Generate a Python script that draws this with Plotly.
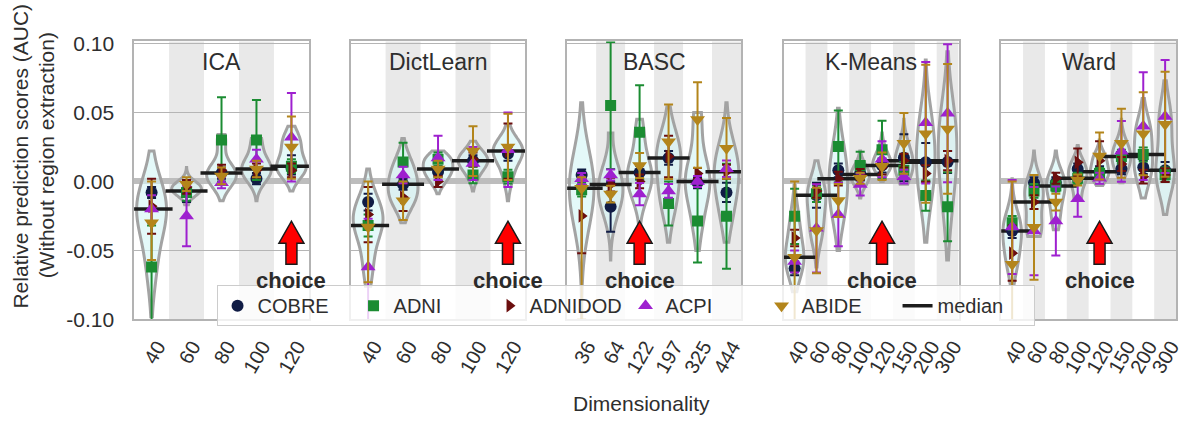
import numpy as np
import plotly.graph_objects as go

W, H = 1189, 439

datasets = ["COBRE", "ADNI", "ADNIDOD", "ACPI", "ABIDE"]
colors = {"COBRE": "#101c45", "ADNI": "#1b8c32", "ADNIDOD": "#6b0e0e",
          "ACPI": "#9e20cf", "ABIDE": "#b3851b"}
symbols = {"COBRE": "circle", "ADNI": "square", "ADNIDOD": "triangle-right",
           "ACPI": "triangle-up", "ABIDE": "triangle-down"}
msize = {"COBRE": 12, "ADNI": 11, "ADNIDOD": 12, "ACPI": 13, "ABIDE": 13}

methods = ["ICA", "DictLearn", "BASC", "K-Means", "Ward"]
dims = {
    "ICA": ["40", "60", "80", "100", "120"],
    "DictLearn": ["40", "60", "80", "100", "120"],
    "BASC": ["36", "64", "122", "197", "325", "444"],
    "K-Means": ["40", "60", "80", "100", "120", "150", "200", "300"],
    "Ward": ["40", "60", "80", "100", "120", "150", "200", "300"],
}
choice = {"ICA": "120", "DictLearn": "120", "BASC": "122", "K-Means": "120", "Ward": "120"}

# ---- mean relative AUC per dataset ----
ica_mean = {
    "COBRE": [-0.008, -0.007, 0.006, 0.002, 0.010],
    "ADNI": [-0.062, -0.008, 0.030, 0.030, 0.011],
    "ADNIDOD": [-0.018, -0.004, 0.008, 0.008, 0.008],
    "ACPI": [-0.020, -0.025, -0.001, 0.016, 0.032],
    "ABIDE": [-0.030, -0.002, 0.004, 0.009, 0.025],
}
ica_err_hi = {
    "COBRE": [0.004, 0.008, 0.004, 0.004, 0.009],
    "ADNI": [0.030, 0.006, 0.031, 0.029, 0.005],
    "ADNIDOD": [0.020, 0.005, 0.004, 0.005, 0.005],
    "ACPI": [0.010, 0.022, 0.004, 0.007, 0.032],
    "ABIDE": [0.030, 0.005, 0.006, 0.006, 0.022],
}
ica_err_lo = {
    "COBRE": [0.004, 0.008, 0.004, 0.004, 0.005],
    "ADNI": [0.045, 0.006, 0.030, 0.029, 0.005],
    "ADNIDOD": [0.020, 0.005, 0.004, 0.005, 0.005],
    "ACPI": [0.010, 0.022, 0.004, 0.007, 0.032],
    "ABIDE": [0.027, 0.005, 0.006, 0.006, 0.023],
}
ica_violin_lo = [-0.098, -0.017, -0.014, -0.014, -0.007]
ica_violin_hi = [0.022, 0.010, 0.034, 0.031, 0.040]

dl_mean = {
    "COBRE": [-0.015, -0.002, 0.007, 0.015, 0.020],
    "ADNI": [-0.032, 0.014, 0.016, 0.0046, 0.0034],
    "ADNIDOD": [-0.024, -0.0115, 0.000, 0.016, 0.022],
    "ACPI": [-0.062, 0.0046, 0.017, 0.013, 0.023],
    "ABIDE": [-0.033, -0.014, 0.009, 0.022, 0.025],
}
dl_err_hi = {
    "COBRE": [0.006, 0.004, 0.004, 0.004, 0.005],
    "ADNI": [0.008, 0.014, 0.005, 0.006, 0.005],
    "ADNIDOD": [0.020, 0.010, 0.004, 0.005, 0.020],
    "ACPI": [0.035, 0.006, 0.016, 0.012, 0.027],
    "ABIDE": [0.033, 0.014, 0.006, 0.018, 0.024],
}
dl_err_lo = {
    "COBRE": [0.006, 0.004, 0.004, 0.004, 0.005],
    "ADNI": [0.008, 0.014, 0.005, 0.006, 0.005],
    "ADNIDOD": [0.020, 0.010, 0.004, 0.005, 0.020],
    "ACPI": [0.040, 0.006, 0.016, 0.012, 0.027],
    "ABIDE": [0.040, 0.014, 0.006, 0.018, 0.024],
}
dl_violin_lo = [-0.076, -0.030, -0.009, -0.007, -0.014]
dl_violin_hi = [0.009, 0.031, 0.022, 0.029, 0.041]

basc_mean = {
    "COBRE": [0.0046, -0.0184, 0.0064, 0.017, -0.001, -0.008],
    "ADNI": [-0.006, 0.055, 0.0356, -0.016, -0.0287, -0.0253],
    "ADNIDOD": [-0.025, -0.0023, 0.000, 0.018, 0.0057, 0.007],
    "ACPI": [0.002, 0.0046, -0.0092, -0.0069, 0.000, 0.0092],
    "ABIDE": [-0.005, -0.0092, 0.0115, 0.0287, 0.0448, 0.024],
}
basc_err_hi = {
    "COBRE": [0.004, 0.018, 0.005, 0.005, 0.004, 0.007],
    "ADNI": [0.005, 0.046, 0.034, 0.016, 0.030, 0.038],
    "ADNIDOD": [0.027, 0.005, 0.005, 0.015, 0.004, 0.005],
    "ACPI": [0.004, 0.004, 0.008, 0.005, 0.004, 0.006],
    "ABIDE": [0.008, 0.006, 0.009, 0.027, 0.027, 0.022],
}
basc_err_lo = {
    "COBRE": [0.004, 0.018, 0.005, 0.005, 0.004, 0.007],
    "ADNI": [0.005, 0.046, 0.034, 0.016, 0.030, 0.038],
    "ADNIDOD": [0.027, 0.005, 0.005, 0.015, 0.004, 0.005],
    "ACPI": [0.004, 0.004, 0.008, 0.005, 0.004, 0.006],
    "ABIDE": [0.095, 0.006, 0.009, 0.027, 0.035, 0.022],
}
basc_violin_lo = [-0.100, -0.057, -0.031, -0.044, -0.050, -0.044]
basc_violin_hi = [0.057, 0.035, 0.045, 0.054, 0.050, 0.057]

km_mean = {
    "COBRE": [-0.063, -0.010, 0.008, 0.0057, 0.0115, 0.0172, 0.0138, 0.014],
    "ADNI": [-0.0253, -0.009, 0.0253, 0.0115, 0.023, 0.008, -0.0103, -0.0184],
    "ADNIDOD": [-0.041, -0.0069, 0.002, 0.005, 0.010, 0.015, 0.0057, 0.015],
    "ACPI": [-0.058, -0.034, -0.024, -0.0023, 0.016, 0.0034, 0.0425, 0.0494],
    "ABIDE": [-0.055, -0.0356, -0.0138, 0.0023, 0.011, 0.0276, 0.0345, 0.038],
}
km_err_hi = {
    "COBRE": [0.005, 0.009, 0.005, 0.005, 0.005, 0.017, 0.014, 0.008],
    "ADNI": [0.020, 0.006, 0.026, 0.010, 0.021, 0.006, 0.011, 0.025],
    "ADNIDOD": [0.006, 0.005, 0.005, 0.004, 0.005, 0.005, 0.006, 0.007],
    "ACPI": [0.008, 0.032, 0.023, 0.008, 0.013, 0.005, 0.044, 0.050],
    "ABIDE": [0.055, 0.031, 0.012, 0.004, 0.010, 0.022, 0.050, 0.047],
}
km_err_lo = {
    "COBRE": [0.005, 0.009, 0.005, 0.005, 0.005, 0.017, 0.014, 0.008],
    "ADNI": [0.020, 0.006, 0.026, 0.010, 0.021, 0.006, 0.011, 0.025],
    "ADNIDOD": [0.006, 0.005, 0.005, 0.004, 0.005, 0.005, 0.006, 0.007],
    "ACPI": [0.008, 0.032, 0.023, 0.008, 0.013, 0.005, 0.044, 0.050],
    "ABIDE": [0.055, 0.031, 0.012, 0.004, 0.010, 0.022, 0.050, 0.047],
}
km_violin_lo = [-0.080, -0.062, -0.050, -0.012, 0.000, -0.002, -0.044, -0.057]
km_violin_hi = [-0.003, 0.015, 0.053, 0.022, 0.035, 0.045, 0.088, 0.094]

ward_mean = {
    "COBRE": [-0.036, -0.001, -0.001, 0.009, 0.007, 0.0092, 0.0103, 0.008],
    "ADNI": [-0.030, -0.0069, -0.0034, 0.0023, 0.0057, 0.018, 0.0195, 0.005],
    "ADNIDOD": [-0.052, -0.015, 0.0023, 0.0138, 0.015, 0.0126, 0.0034, 0.0046],
    "ACPI": [-0.033, -0.036, -0.0287, -0.0126, 0.0023, 0.0218, 0.040, 0.047],
    "ABIDE": [-0.060, -0.0333, -0.015, 0.001, 0.0184, 0.0276, 0.0345, 0.0414],
}
ward_err_hi = {
    "COBRE": [0.005, 0.004, 0.004, 0.004, 0.004, 0.004, 0.005, 0.006],
    "ADNI": [0.005, 0.005, 0.004, 0.004, 0.004, 0.005, 0.005, 0.005],
    "ADNIDOD": [0.020, 0.005, 0.004, 0.010, 0.014, 0.005, 0.005, 0.005],
    "ACPI": [0.034, 0.032, 0.025, 0.013, 0.004, 0.022, 0.039, 0.041],
    "ABIDE": [0.060, 0.038, 0.006, 0.004, 0.017, 0.025, 0.030, 0.038],
}
ward_err_lo = {
    "COBRE": [0.005, 0.004, 0.004, 0.004, 0.004, 0.004, 0.005, 0.006],
    "ADNI": [0.005, 0.005, 0.004, 0.004, 0.004, 0.005, 0.005, 0.005],
    "ADNIDOD": [0.020, 0.005, 0.004, 0.010, 0.014, 0.005, 0.005, 0.005],
    "ACPI": [0.034, 0.032, 0.025, 0.013, 0.004, 0.022, 0.039, 0.041],
    "ABIDE": [0.060, 0.038, 0.006, 0.004, 0.017, 0.025, 0.030, 0.038],
}
ward_violin_lo = [-0.074, -0.040, -0.035, -0.012, -0.003, -0.001, -0.012, -0.024]
ward_violin_hi = [0.002, 0.022, 0.022, 0.026, 0.030, 0.045, 0.060, 0.073]

panels = {
    "ICA": (ica_mean, ica_err_hi, ica_err_lo, ica_violin_lo, ica_violin_hi),
    "DictLearn": (dl_mean, dl_err_hi, dl_err_lo, dl_violin_lo, dl_violin_hi),
    "BASC": (basc_mean, basc_err_hi, basc_err_lo, basc_violin_lo, basc_violin_hi),
    "K-Means": (km_mean, km_err_hi, km_err_lo, km_violin_lo, km_violin_hi),
    "Ward": (ward_mean, ward_err_hi, ward_err_lo, ward_violin_lo, ward_violin_hi),
}

y_ticks = [-0.10, -0.05, 0.00, 0.05, 0.10]
y_ticktext = ["-0.10", "-0.05", "0.00", "0.05", "0.10"]

# ---- layout geometry (pixels) ----
panel_px = [(134, 310), (352, 528), (570, 745), (788, 964), (1007, 1183)]
plot_top, plot_bottom = 33, 325
ydom = [1 - plot_bottom / H, 1 - plot_top / H]
yrange = [-0.1, 0.1014]

FONT = "Liberation Sans, Arial, sans-serif"
TXT = "#2e2e2e"
FRAME = "#b3b3b3"

fig = go.Figure()
layout = dict(
    width=W, height=H, margin=dict(l=0, r=0, t=0, b=0),
    paper_bgcolor="white", plot_bgcolor="white",
    font=dict(family=FONT, color=TXT, size=20),
    violinmode="overlay", showlegend=True,
)
shapes, annotations = [], []

for p, m in enumerate(methods):
    k = "" if p == 0 else str(p + 1)
    xa, ya = "x" + k, "y" + k
    cats = dims[m]
    n = len(cats)
    xs = list(range(n))
    mean, ehi, elo, vlo, vhi = panels[m]

    layout["xaxis" + k] = dict(
        domain=[panel_px[p][0] / W, panel_px[p][1] / W], range=[-0.5, n - 0.5],
        tickmode="array", tickvals=xs, ticktext=cats, tickangle=-60,
        tickfont=dict(size=20, color=TXT), ticks="", ticklabelstandoff=6,
        ticklabelshift=6,
        showgrid=False, zeroline=False, showline=True, mirror=True,
        linecolor=FRAME, linewidth=1.5, anchor=ya, fixedrange=True,
    )
    layout["yaxis" + k] = dict(
        domain=ydom, range=yrange, tickmode="array", tickvals=y_ticks,
        ticktext=y_ticktext, showticklabels=(p == 0),
        tickfont=dict(size=21, color=TXT), ticks="", ticklabelstandoff=14,
        showgrid=True, gridcolor="#b5b5b5", gridwidth=1.2,
        zeroline=True, zerolinecolor="#bdbdbd", zerolinewidth=6,
        showline=True, mirror=True, linecolor=FRAME, linewidth=1.5,
        anchor=xa, fixedrange=True,
    )
    if p > 0:
        layout["yaxis" + k]["matches"] = "y"

    # alternating background stripes
    for j in xs:
        if j % 2 == 1:
            shapes.append(dict(type="rect", xref=xa, yref=ya + " domain",
                               x0=j - 0.5, x1=j + 0.5, y0=0, y1=1,
                               fillcolor="#e9e9e9", line=dict(width=0), layer="below"))

    # violins
    for j in xs:
        vals = [mean[d][j] for d in datasets]
        span = [vlo[j], vhi[j]]
        fig.add_trace(go.Violin(
            x=[j] * len(vals), y=vals, xaxis=xa, yaxis=ya,
            spanmode="manual", span=span, bandwidth=(span[1] - span[0]) / 6.0,
            width=0.85, scalemode="width", points=False,
            line=dict(color="#a3a3a3", width=3), fillcolor="rgba(214,246,246,0.65)",
            showlegend=False, hoverinfo="skip",
        ))

    # medians
    med = [float(np.median([mean[d][j] for d in datasets])) for j in xs]
    fig.add_trace(go.Scatter(
        x=xs, y=med, xaxis=xa, yaxis=ya, mode="markers",
        marker=dict(symbol="line-ew", size=30, line=dict(width=3.5, color="#1c1c1c")),
        showlegend=False, hoverinfo="skip",
    ))

    # dataset points with error bars
    for d in datasets:
        fig.add_trace(go.Scatter(
            x=xs, y=mean[d], xaxis=xa, yaxis=ya, mode="markers", name=d,
            legendgroup=d, showlegend=(p == 0),
            marker=dict(symbol=symbols[d], size=msize[d], color=colors[d]),
            error_y=dict(type="data", symmetric=False, array=ehi[d], arrayminus=elo[d],
                         color=colors[d], thickness=2, width=4.5),
        ))

    # choice arrow + label
    cidx = cats.index(choice[m])
    shapes.append(dict(
        type="path", xref=xa, yref=ya, xsizemode="pixel", ysizemode="pixel",
        xanchor=cidx, yanchor=-0.06,
        path="M -5.5,0 L 5.5,0 L 5.5,21 L 12.5,21 L 0,43 L -12.5,21 L -5.5,21 Z",
        fillcolor="#ff0000", line=dict(color="#1a1a1a", width=1.5), layer="above",
    ))
    annotations.append(dict(
        x=cidx, y=-0.072, xref=xa, yref=ya, text="<b>choice</b>", showarrow=False,
        font=dict(size=22, color="#2b2b2b", family=FONT), xanchor="center", yanchor="middle",
    ))
    # panel title
    annotations.append(dict(
        x=0.5, y=0.0862, xref=xa + " domain", yref=ya, text=m, showarrow=False,
        font=dict(size=23, color=TXT, family=FONT), xanchor="center", yanchor="middle",
    ))

# median legend entry
fig.add_trace(go.Scatter(x=[None], y=[None], mode="lines", name="median",
                         line=dict(color="#1c1c1c", width=3.5)))

annotations.append(dict(x=20 / W, y=1 - 153 / H, xref="paper", yref="paper",
                        text="Relative prediction scores (AUC)", textangle=-90,
                        showarrow=False, font=dict(size=21, color=TXT, family=FONT),
                        xanchor="center", yanchor="middle"))
annotations.append(dict(x=46 / W, y=1 - 153 / H, xref="paper", yref="paper",
                        text="(Without region extraction)", textangle=-90,
                        showarrow=False, font=dict(size=21, color=TXT, family=FONT),
                        xanchor="center", yanchor="middle"))
annotations.append(dict(x=645 / W, y=1 - 413 / H, xref="paper", yref="paper",
                        text="Dimensionality", showarrow=False,
                        font=dict(size=21, color=TXT, family=FONT),
                        xanchor="center", yanchor="middle"))

layout["shapes"] = shapes
layout["annotations"] = annotations
layout["legend"] = dict(
    orientation="h", x=217 / W, y=1 - 289 / H, xanchor="left", yanchor="top",
    bgcolor="rgba(255,255,255,0.8)", bordercolor="#cccccc", borderwidth=1,
    font=dict(size=20, color=TXT, family=FONT), itemsizing="trace",
    traceorder="normal", entrywidth=91, entrywidthmode="pixels",
)
fig.update_layout(**layout)
fig.write_html("out.html")
